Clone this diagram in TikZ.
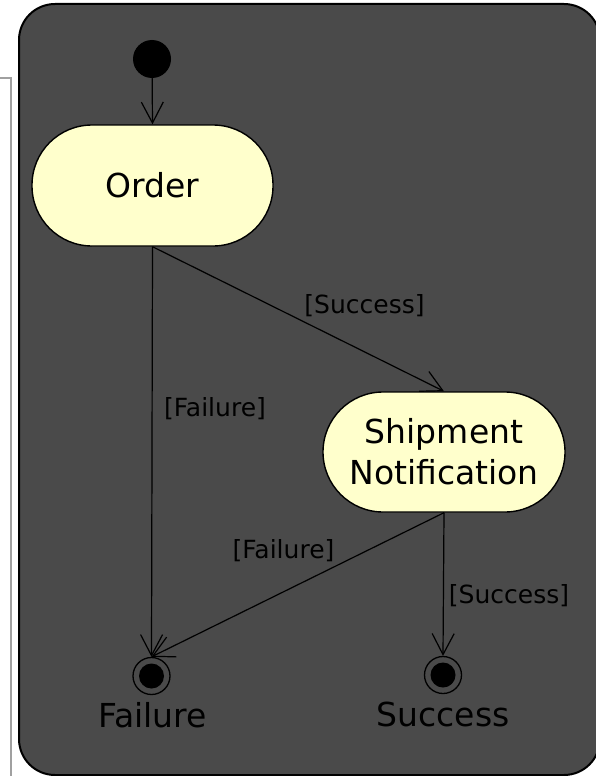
\documentclass[tikz,border=0pt]{standalone}
\usepackage{fontspec}
\setmainfont{DejaVu Sans}
\usetikzlibrary{arrows.meta}
\definecolor{bgdark}{HTML}{4A4A4A}
\definecolor{statefill}{HTML}{FFFFCC}
\definecolor{sidegray}{HTML}{A0A0A0}
\tikzset{
  statebox/.style={draw=black, fill=statefill, line width=1.4pt, rounded corners=60pt,
    minimum width=241pt, minimum height=121pt, inner sep=0pt, align=center,
    font=\fontsize{33}{41}\selectfont},
  initstate/.style={circle, fill=black, minimum size=38pt, inner sep=0pt},
  finalstate/.style={circle, draw=black, line width=1.3pt, minimum size=37pt, inner sep=0pt,
    path picture={\fill[black] (path picture bounding box.center) circle (12.5pt);}},
  flow/.style={draw=black, line width=1.2pt, -{Straight Barb[length=21pt,width=22pt]}},
  guard/.style={font=\fontsize{25}{30}\selectfont, text=black, inner sep=0pt, anchor=base},
  endlabel/.style={font=\fontsize{33}{41}\selectfont, text=black, inner sep=0pt, anchor=base},
}
\begin{document}
\begin{tikzpicture}[x=1pt, y=-1pt]
\useasboundingbox (0,0) rectangle (596,776);
\clip (0,0) rectangle (596,776);
% side frame line
\draw[sidegray, line width=1.5pt] (0,78) -- (11,78) -- (11,780);
% container
\draw[fill=bgdark, draw=black, line width=2pt, rounded corners=36pt] (19,4) rectangle (600,775);
% nodes
\node[initstate] (init) at (152,59) {};
\node[statebox] (order) at (152.5,185.5) {Order};
\node[statebox, minimum width=242pt, minimum height=120pt] (ship) at (444,452) {Shipment\\Notification};
\node[finalstate] (fail) at (151.5,676) {};
\node[finalstate] (succ) at (443,675) {};
\node[endlabel] (failtxt) at (152.5,727) {Failure};
\node[endlabel] (succtxt) at (443,726) {Success};
% connectors
\draw[flow] (init) -- (order.north);
\draw[flow] (order.south) -- (fail.north);
\draw[flow] (order.south) -- (ship.north);
\draw[flow] (ship.south) -- (fail.north);
\draw[flow] (ship.south) -- (succ.north);
% guards
\node[guard] (g1) at (364.5,313) {[Success]};
\node[guard] (g2) at (215,416) {[Failure]};
\node[guard] (g3) at (283.5,558) {[Failure]};
\node[guard] (g4) at (509,603) {[Success]};
\end{tikzpicture}
\end{document}
